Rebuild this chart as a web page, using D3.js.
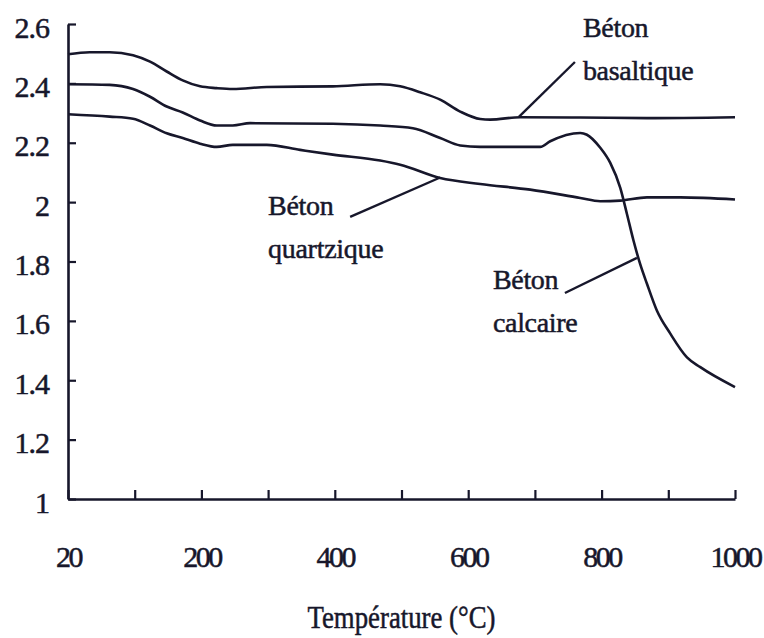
<!DOCTYPE html>
<html>
<head>
<meta charset="utf-8">
<script src="https://cdn.jsdelivr.net/npm/d3@7"></script>
<style>
  html, body { margin: 0; padding: 0; background: #ffffff; }
  svg { display: block; }
</style>
</head>
<body>
<svg id="chart" width="764" height="638"></svg>
<script>
// ---------- Data ----------
const xTickValues = [20, 100, 200, 300, 400, 500, 600, 700, 800, 900, 1000];
const xTickLabels = ["20", "200", "400", "600", "800", "1000"];
const xLabelValues = [20, 200, 400, 600, 800, 1000];
const yTickValues = [1, 1.2, 1.4, 1.6, 1.8, 2, 2.2, 2.4, 2.6];
const yTickLabels = ["1", "1.2", "1.4", "1.6", "1.8", "2", "2.2", "2.4", "2.6"];

const basaltTemp = [20, 46, 70, 98, 123, 148, 172, 198, 223, 247, 298, 397, 468, 498, 528, 558, 588, 618, 633, 678, 768, 868, 1000];
const basaltVal  = [2.498, 2.505, 2.505, 2.495, 2.473, 2.44, 2.41, 2.39, 2.384, 2.381, 2.388, 2.39, 2.397, 2.39, 2.37, 2.345, 2.305, 2.28, 2.278, 2.286, 2.285, 2.283, 2.286];

const calcaireTemp = [20, 70, 98, 123, 148, 172, 198, 223, 247, 273, 397, 468, 517, 558, 588, 618, 708, 723, 768, 778, 798, 813, 828, 838, 848, 858, 868, 883, 903, 928, 948, 1000];
const calcaireVal  = [2.397, 2.395, 2.381, 2.355, 2.322, 2.302, 2.275, 2.258, 2.258, 2.266, 2.264, 2.258, 2.249, 2.216, 2.191, 2.186, 2.186, 2.205, 2.233, 2.227, 2.183, 2.132, 2.048, 1.96, 1.869, 1.79, 1.725, 1.634, 1.557, 1.477, 1.444, 1.377];

const quartzTemp = [20, 70, 98, 123, 148, 172, 198, 223, 247, 298, 348, 397, 468, 498, 558, 618, 693, 768, 798, 828, 868, 918, 1000];
const quartzVal  = [2.296, 2.288, 2.281, 2.258, 2.232, 2.216, 2.197, 2.186, 2.193, 2.193, 2.176, 2.16, 2.14, 2.126, 2.081, 2.061, 2.042, 2.014, 2.003, 2.005, 2.016, 2.016, 2.009];

const seriesNames = ["Béton basaltique", "Béton calcaire", "Béton quartzique"];

// annotation labels (anchored in data coordinates) and leader lines
const annotLines  = [["Béton", "basaltique"], ["Béton", "quartzique"], ["Béton", "calcaire"]];
const annotAnchor = [[772, 2.556], [300, 1.957], [637, 1.707]];
const leaderFrom  = [[760, 2.472], [423, 1.95], [745, 1.694]];
const leaderTo    = [[676, 2.287], [558, 2.083], [853, 1.812]];

const xTitle = "Température (°C)";

// ---------- Layout ----------
const W = 764, H = 638;
const margin = { top: 24, right: 29, bottom: 139, left: 68 };
const w = W - margin.left - margin.right;
const h = H - margin.top - margin.bottom;
const ink = "#17172b";
const font = "'Liberation Serif', 'Times New Roman', serif";

const svg = d3.select("#chart");
const g = svg.append("g").attr("transform", `translate(${margin.left},${margin.top})`);

// first interval of the axis spans 20..100, the rest are 100 units each
const x = d3.scaleLinear().domain([20, 100, 1000]).range([0, w * 0.1, w]);
const y = d3.scaleLinear().domain([1, 2.6]).range([h, 0]);

function inkText(sel, size, spacing) {
  sel.attr("fill", ink)
    .attr("stroke", ink)
    .attr("stroke-width", 0.5)
    .style("font-family", font)
    .style("font-size", size + "px")
    .style("letter-spacing", spacing + "px");
}

// ---------- Axes ----------
const labelMap = new Map(xLabelValues.map((v, i) => [v, xTickLabels[i]]));
const xAxis = d3.axisBottom(x)
  .tickValues(xTickValues)
  .tickSizeInner(-9)
  .tickSizeOuter(0)
  .tickFormat(d => labelMap.get(d) || "");
const gx = g.append("g").attr("transform", `translate(0,${h})`).call(xAxis);
gx.select(".domain").attr("stroke", ink).attr("stroke-width", 2.6);
gx.selectAll(".tick line").attr("stroke", ink).attr("stroke-width", 2.2);
gx.selectAll(".tick text").attr("y", 68).attr("dy", 0).call(inkText, 30, -2.5);

const yLabelMap = new Map(yTickValues.map((v, i) => [v, yTickLabels[i]]));
const yAxis = d3.axisLeft(y)
  .tickValues(yTickValues)
  .tickSizeInner(-8)
  .tickSizeOuter(0)
  .tickFormat(d => yLabelMap.get(d));
const gy = g.append("g").call(yAxis);
gy.select(".domain").attr("stroke", ink).attr("stroke-width", 2.6);
gy.selectAll(".tick line").attr("stroke", ink).attr("stroke-width", 2.2);
gy.selectAll(".tick text").attr("x", -19).attr("dy", 13).call(inkText, 30, -1);

// ---------- Lines ----------
const series = [
  basaltTemp.map((t, i) => [t, basaltVal[i]]),
  calcaireTemp.map((t, i) => [t, calcaireVal[i]]),
  quartzTemp.map((t, i) => [t, quartzVal[i]])
];
const line = d3.line().x(d => x(d[0])).y(d => y(d[1])).curve(d3.curveMonotoneX);
g.selectAll("path.series")
  .data(series)
  .join("path")
  .attr("class", "series")
  .attr("fill", "none")
  .attr("stroke", ink)
  .attr("stroke-width", 2.6)
  .attr("stroke-linejoin", "round")
  .attr("d", line)
  .append("title").text((d, i) => seriesNames[i]);

// ---------- Annotations ----------
g.selectAll("line.leader")
  .data(leaderFrom)
  .join("line")
  .attr("class", "leader")
  .attr("x1", d => x(d[0])).attr("y1", d => y(d[1]))
  .attr("x2", (d, i) => x(leaderTo[i][0])).attr("y2", (d, i) => y(leaderTo[i][1]))
  .attr("stroke", ink).attr("stroke-width", 2.4);

annotLines.forEach((lines, i) => {
  const t = g.append("text")
    .attr("x", x(annotAnchor[i][0]))
    .attr("y", y(annotAnchor[i][1]))
    .call(inkText, 28, -0.3);
  lines.forEach((s, j) => {
    t.append("tspan")
      .attr("x", x(annotAnchor[i][0]))
      .attr("dy", j === 0 ? 0 : 43)
      .text(s);
  });
});

// ---------- Axis title ----------
g.append("text")
  .attr("x", w / 2)
  .attr("y", h + 129)
  .attr("text-anchor", "middle")
  .attr("textLength", 188)
  .attr("lengthAdjust", "spacingAndGlyphs")
  .call(inkText, 31, 0)
  .text(xTitle);
</script>
</body>
</html>
